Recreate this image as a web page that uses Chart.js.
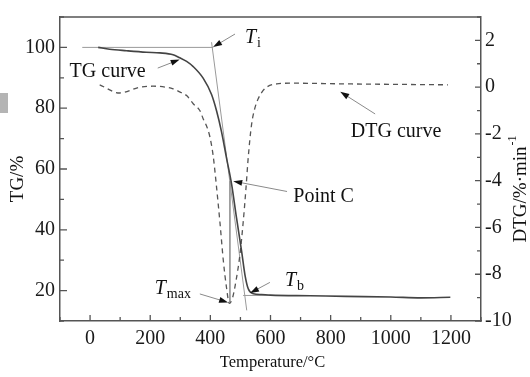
<!DOCTYPE html>
<html>
<head>
<meta charset="utf-8">
<script src="https://cdn.jsdelivr.net/npm/chart.js@4.4.0/dist/chart.umd.min.js"></script>
<style>
  html, body { margin: 0; padding: 0; background: #fff; }
  #wrap { position: relative; width: 530px; height: 377px; }
  #mark { position: absolute; left: 0; top: 93px; width: 8px; height: 20px; background: #b4b4b4; }
</style>
</head>
<body>
<div id="wrap">
  <canvas id="chart" width="530" height="377"></canvas>
  <div id="mark"></div>
</div>
<script>
// TG curve (left axis, %)
const tgTemps = [27, 65, 121, 187, 232, 276, 298, 321, 343, 376, 404, 421, 437, 454, 471, 487, 504, 515, 526, 543, 570, 600, 732, 850, 1000, 1100, 1198];
const tgValues = [100, 99.4, 98.9, 98.4, 98.2, 97.6, 96.6, 95.4, 93.7, 89.9, 84.5, 79.0, 72.3, 63.5, 54.8, 43.9, 32.9, 25.2, 20.6, 19.0, 18.7, 18.5, 18.3, 18.1, 17.9, 17.6, 17.8];

// DTG curve (right axis, %/min)
const dtgTemps = [32, 98, 165, 209, 276, 298, 321, 343, 365, 376, 387, 398, 409, 420, 432, 443, 454, 463, 474, 485, 498, 509, 518, 526, 537, 548, 559, 575, 587, 621, 676, 843, 1009, 1190];
const dtgValues = [0.1, -0.25, 0, 0.04, -0.07, -0.2, -0.36, -0.71, -1.0, -1.35, -1.65, -2.1, -2.9, -4.2, -5.8, -7.4, -8.6, -9.25, -9.0, -8.3, -7.2, -5.8, -4.4, -3.0, -1.6, -0.9, -0.5, -0.15, 0, 0.14, 0.17, 0.14, 0.12, 0.1];

// construction lines (temperature, TG)
const lineTi = [[-26, 100], [410, 100]];
const lineTangent = [[404, 101.7], [521, 13.5]];
const lineTmax = [[465, 56], [465, 16.2]];
const lineTb = [[509, 18.4], [600, 18.4]];

// arrows: [fromT, fromTG, toT, toTG]
const arrows = [
  [482, 104.4, 409, 100.1],
  [225, 93.2, 298, 96.0],
  [948, 78.1, 832, 85.4],
  [655, 52.6, 476, 56.0],
  [365, 18.9, 459, 16.1],
  [598, 22.7, 532, 19.2]
];

// labels: [text, subscript, T, TG, italic]
const labels = [
  ['T', 'i', 515, 101.6, true],
  ['TG curve', '', -68, 90.1, false],
  ['DTG curve', '', 867, 70.5, false],
  ['Point C', '', 676, 49, false],
  ['T', 'max', 215, 18.9, true],
  ['T', 'b', 648, 21.6, true]
];

const xTicks = [0, 200, 400, 600, 800, 1000, 1200];
const tgTicks = [20, 40, 60, 80, 100];
const dtgTicks = [-10, -8, -6, -4, -2, 0, 2];

const SERIF = '"Liberation Serif", "Times New Roman", serif';
const frameColor = '#555';

const toPts = (xs, ys) => xs.map((x, i) => ({ x: x, y: ys[i] }));
const seg = (arr) => arr.map(p => ({ x: p[0], y: p[1] }));

const guide = (pts) => ({
  data: seg(pts), yAxisID: 'y', borderColor: '#9a9a9a', borderWidth: 1,
  pointRadius: 0, tension: 0, order: 3
});

const decor = {
  id: 'decor',
  afterDraw(chart) {
    const ctx = chart.ctx;
    const a = chart.chartArea;
    const sx = chart.scales.x, sy = chart.scales.y, s2 = chart.scales.y2;
    ctx.save();

    // top frame line
    ctx.strokeStyle = frameColor;
    ctx.lineWidth = 1.5;
    ctx.beginPath();
    ctx.moveTo(a.left, a.top);
    ctx.lineTo(a.right, a.top);
    ctx.stroke();

    // inward tick marks
    ctx.lineWidth = 1.3;
    ctx.beginPath();
    for (let v = -100; v <= 1300; v += 100) {
      const px = sx.getPixelForValue(v);
      const len = v % 200 === 0 ? 6 : 4;
      ctx.moveTo(px, a.bottom);
      ctx.lineTo(px, a.bottom - len);
    }
    for (let v = 10; v <= 110; v += 10) {
      const py = sy.getPixelForValue(v);
      const len = v % 20 === 0 ? 7 : 4;
      ctx.moveTo(a.left, py);
      ctx.lineTo(a.left + len, py);
    }
    for (let v = -10; v <= 3; v += 1) {
      const py = s2.getPixelForValue(v);
      const len = v % 2 === 0 ? 6 : 4;
      ctx.moveTo(a.right, py);
      ctx.lineTo(a.right - len, py);
    }
    ctx.stroke();

    // arrows
    arrows.forEach(r => {
      const x1 = sx.getPixelForValue(r[0]), y1 = sy.getPixelForValue(r[1]);
      const x2 = sx.getPixelForValue(r[2]), y2 = sy.getPixelForValue(r[3]);
      const ang = Math.atan2(y2 - y1, x2 - x1);
      ctx.strokeStyle = '#8a8a8a';
      ctx.lineWidth = 1;
      ctx.beginPath();
      ctx.moveTo(x1, y1);
      ctx.lineTo(x2 - 6 * Math.cos(ang), y2 - 6 * Math.sin(ang));
      ctx.stroke();
      ctx.fillStyle = '#111';
      ctx.beginPath();
      ctx.moveTo(x2, y2);
      ctx.lineTo(x2 - 9 * Math.cos(ang) + 3 * Math.sin(ang), y2 - 9 * Math.sin(ang) - 3 * Math.cos(ang));
      ctx.lineTo(x2 - 9 * Math.cos(ang) - 3 * Math.sin(ang), y2 - 9 * Math.sin(ang) + 3 * Math.cos(ang));
      ctx.closePath();
      ctx.fill();
    });

    // annotation texts
    ctx.fillStyle = '#111';
    ctx.textBaseline = 'alphabetic';
    ctx.textAlign = 'left';
    labels.forEach(l => {
      const px = sx.getPixelForValue(l[2]), py = sy.getPixelForValue(l[3]);
      ctx.font = (l[4] ? 'italic ' : '') + '20px ' + SERIF;
      ctx.fillText(l[0], px, py);
      if (l[1]) {
        const w = ctx.measureText(l[0]).width;
        ctx.font = '14px ' + SERIF;
        ctx.fillText(l[1], px + w + 1, py + 4);
      }
    });

    // axis titles
    ctx.textAlign = 'center';
    ctx.textBaseline = 'middle';
    ctx.font = '19px ' + SERIF;
    ctx.save();
    ctx.translate(18.5, (a.top + a.bottom) / 2 + 10);
    ctx.rotate(-Math.PI / 2);
    ctx.fillText('TG/%', 0, 0);
    ctx.restore();

    ctx.save();
    ctx.translate(521, (a.top + a.bottom) / 2 + 20);
    ctx.rotate(-Math.PI / 2);
    ctx.textAlign = 'left';
    const base = 'DTG/%\u00b7min';
    const bw = ctx.measureText(base).width;
    const sup = '-1';
    ctx.font = '12px ' + SERIF;
    const sw = ctx.measureText(sup).width;
    const start = -(bw + sw + 1) / 2;
    ctx.font = '19px ' + SERIF;
    ctx.fillText(base, start, 0);
    ctx.font = '12px ' + SERIF;
    ctx.fillText(sup, start + bw + 1, -8);
    ctx.restore();

    ctx.font = '16.5px ' + SERIF;
    ctx.fillText('Temperature/\u00b0C', (a.left + a.right) / 2 + 2, 363);

    ctx.restore();
  }
};

new Chart(document.getElementById('chart'), {
  type: 'line',
  data: {
    datasets: [
      {
        label: 'TG', data: toPts(tgTemps, tgValues), yAxisID: 'y',
        borderColor: '#444', borderWidth: 1.6, pointRadius: 0,
        cubicInterpolationMode: 'monotone', order: 1
      },
      {
        label: 'DTG', data: toPts(dtgTemps, dtgValues), yAxisID: 'y2',
        borderColor: '#555', borderWidth: 1.3, borderDash: [5, 4], pointRadius: 0,
        cubicInterpolationMode: 'monotone', order: 2
      },
      guide(lineTi),
      guide(lineTangent),
      guide(lineTmax),
      guide(lineTb)
    ]
  },
  options: {
    responsive: false,
    animation: false,
    devicePixelRatio: 1,
    layout: { padding: { top: 12, left: 0, right: 0, bottom: 0 } },
    plugins: { legend: { display: false }, tooltip: { enabled: false } },
    scales: {
      x: {
        type: 'linear', min: -100, max: 1300,
        afterFit: (s) => { s.height = 56; },
        afterBuildTicks: (s) => { s.ticks = xTicks.map(v => ({ value: v })); },
        ticks: { autoSkip: false, maxRotation: 0, padding: 6, color: '#1a1a1a', font: { family: SERIF, size: 20 },
                 callback: (v) => String(v) },
        grid: { display: false, drawTicks: false },
        border: { display: true, color: frameColor, width: 1.5 }
      },
      y: {
        position: 'left', min: 10, max: 110,
        afterFit: (s) => { s.width = 60; },
        afterBuildTicks: (s) => { s.ticks = tgTicks.map(v => ({ value: v })); },
        ticks: { autoSkip: false, padding: 5, color: '#1a1a1a', font: { family: SERIF, size: 20 },
                 callback: (v) => String(v) },
        grid: { display: false, drawTicks: false },
        border: { display: true, color: frameColor, width: 1.5 }
      },
      y2: {
        position: 'right', min: -10, max: 3,
        afterFit: (s) => { s.width = 49; },
        afterBuildTicks: (s) => { s.ticks = dtgTicks.map(v => ({ value: v })); },
        ticks: { autoSkip: false, padding: 4, color: '#1a1a1a', font: { family: SERIF, size: 20 },
                 callback: (v) => String(v) },
        grid: { display: false, drawTicks: false },
        border: { display: true, color: frameColor, width: 1.5 }
      }
    }
  },
  plugins: [decor]
});
</script>
</body>
</html>
